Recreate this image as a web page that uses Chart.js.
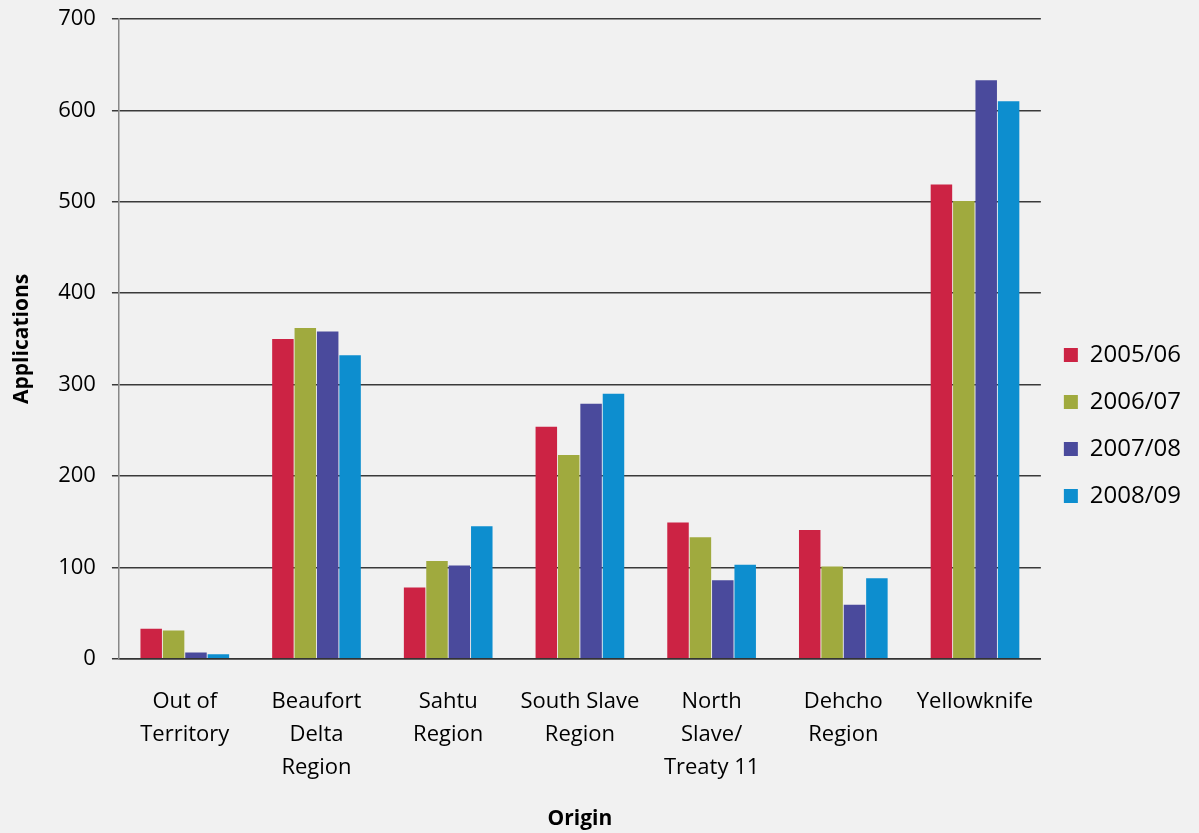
<!DOCTYPE html>
<html>
<head>
<meta charset="utf-8">
<script src="https://cdn.jsdelivr.net/npm/chart.js@4"></script>
<style>
  body { margin: 0; background: #f1f1f1; }
  #caja { width: 1199px; height: 833px; position: relative; }
</style>
</head>
<body>
<div id="caja"><canvas id="grafico"></canvas></div>
<script>
const origenes = [
  ["Out of", "Territory"],
  ["Beaufort", "Delta", "Region"],
  ["Sahtu", "Region"],
  ["South Slave", "Region"],
  ["North", "Slave/", "Treaty 11"],
  ["Dehcho", "Region"],
  ["Yellowknife"]
];
const periodos = ["2005/06", "2006/07", "2007/08", "2008/09"];
const valores0506 = [33, 350, 78, 254, 149, 141, 519];
const valores0607 = [31, 362, 107, 223, 133, 101, 501];
const valores0708 = [7, 358, 102, 279, 86, 59, 633];
const valores0809 = [5, 332, 145, 290, 103, 88, 610];
const ticksY = [0, 100, 200, 300, 400, 500, 600, 700];

const colores = ["#cc2344", "#a0aa3e", "#4a4a9c", "#0d8ecf"];
const series = [valores0506, valores0607, valores0708, valores0809];

const fuente = "'Open Sans', 'Liberation Sans', sans-serif";

const ctx = document.getElementById("grafico").getContext("2d");
window.miGrafico = new Chart(ctx, {
  type: "bar",
  data: {
    labels: origenes,
    datasets: series.map((datos, i) => ({
      label: periodos[i],
      data: datos,
      backgroundColor: colores[i],
      borderWidth: 0,
      categoryPercentage: 0.68,
      barPercentage: 0.96,
    })),
  },
  options: {
    responsive: true,
    maintainAspectRatio: false,
    animation: false,
    layout: { padding: { left: 9, top: 19, right: 8, bottom: 1 } },
    plugins: {
      tooltip: { enabled: false },
      legend: {
        position: "right",
        labels: {
          font: { family: fuente, size: 24 },
          color: "#000",
          boxWidth: 14,
          boxHeight: 14,
          padding: 23,
        },
      },
    },
    scales: {
      x: {
        grid: { display: false },
        border: { display: true, color: "#333", width: 1.5 },
        ticks: {
          font: { family: fuente, size: 22, lineHeight: 1.5 },
          color: "#000",
          padding: 18,
          maxRotation: 0,
          autoSkip: false,
        },
        title: {
          display: true,
          text: "Origin",
          font: { family: fuente, size: 21, weight: "bold" },
          color: "#000",
          padding: { top: 5, bottom: 0 },
        },
      },
      y: {
        min: 0,
        max: 700,
        afterBuildTicks: (eje) => {
          eje.ticks = ticksY.map((v) => ({ value: v }));
        },
        afterFit: (eje) => {
          eje.paddingTop = 0; // el margen superior lo da layout.padding
        },
        grid: { color: "#3a3a3a", lineWidth: 1.5, tickLength: 7 },
        border: { display: true, color: "#888", width: 1.5 },
        ticks: {
          font: { family: fuente, size: 22 },
          color: "#000",
          padding: 16,
        },
        title: {
          display: true,
          text: "Applications",
          font: { family: fuente, size: 21, weight: "bold" },
          color: "#000",
          padding: { top: 0, bottom: 8 },
        },
      },
    },
  },
});
</script>
</body>
</html>
